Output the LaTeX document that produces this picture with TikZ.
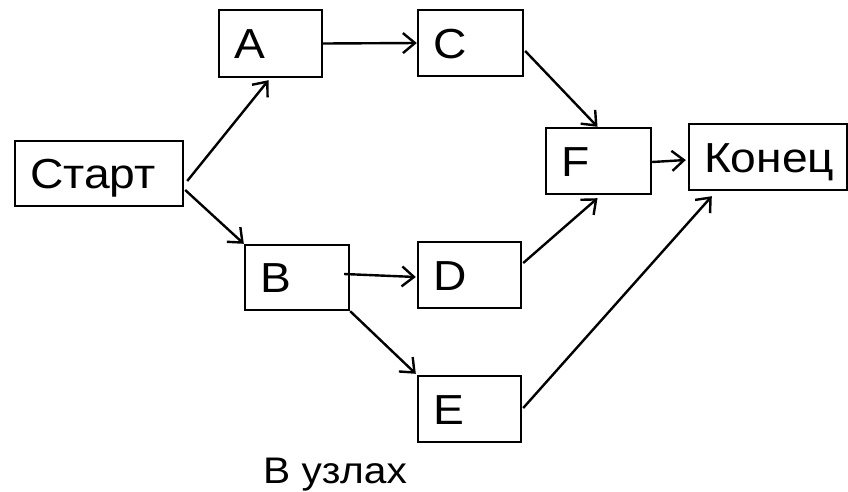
\documentclass[tikz,border=0pt]{standalone}
\usepackage{fontspec}
\setmainfont{Liberation Sans}[FakeStretch=1.1]
\usetikzlibrary{arrows.meta}
\begin{document}
\begin{tikzpicture}[x=1pt,y=-1pt,
  task/.style={draw, line width=2.4pt, rectangle, inner xsep=15pt, inner ysep=0pt,
    align=left, text height=30pt, text depth=0pt,
    font=\fontsize{42}{50}\selectfont},
  link/.style={-{Straight Barb[length=12pt,width=20pt,line width=2.4pt]}, line width=2.4pt}]
\useasboundingbox (0,0) rectangle (848,491);
% activity boxes
\node[task, text width=138pt, minimum height=65pt] (start) at (99,173.5) {Старт};
\node[task, text width=73pt, minimum height=67pt] (A) at (270.5,43.5) {A};
\node[task, text width=75pt, minimum height=66pt] (C) at (470.5,43) {C};
\node[task, text width=74pt, minimum height=65pt] (B) at (297,277.5) {B};
\node[task, text width=73pt, minimum height=66pt] (D) at (469.5,275) {D};
\node[task, text width=73pt, minimum height=66pt] (E) at (469.5,409) {E};
\node[task, text width=75pt, minimum height=66pt] (F) at (598.5,161) {F};
\node[task, text width=128pt, minimum height=66pt] (end) at (768,157) {Конец};
% caption
\node[anchor=base west, inner sep=0pt, font=\fontsize{37}{44}\selectfont] (cap) at (263,483) {В узлах};
% dependencies
\draw[link] ([xshift=3pt,yshift=-7.5pt]start.east) -- ([xshift=-2pt,yshift=-2pt]A.south);
\draw[link] ([xshift=1pt,yshift=-16.5pt]start.east) -- (B.north west);
\draw[link] (A.east) -- (C.west);
\draw[link] ([xshift=1pt,yshift=-8pt]C.east) -- ([xshift=-1pt]F.north);
\draw[link] ([xshift=-6pt,yshift=3.5pt]B.east) -- ([xshift=-1pt,yshift=-2pt]D.west);
\draw[link] (B.south east) -- ([xshift=-1pt,yshift=1pt]E.north west);
\draw[link] ([xshift=1pt,yshift=12pt]D.east) -- ([xshift=-1pt,yshift=-3pt]F.south);
\draw[link] ([xshift=1pt,yshift=1pt]E.east) -- ([xshift=24pt,yshift=-5pt]end.south west);
\draw[link] ([yshift=-1pt]F.east) -- ([xshift=-2pt,yshift=-3pt]end.west);
\end{tikzpicture}
\end{document}
